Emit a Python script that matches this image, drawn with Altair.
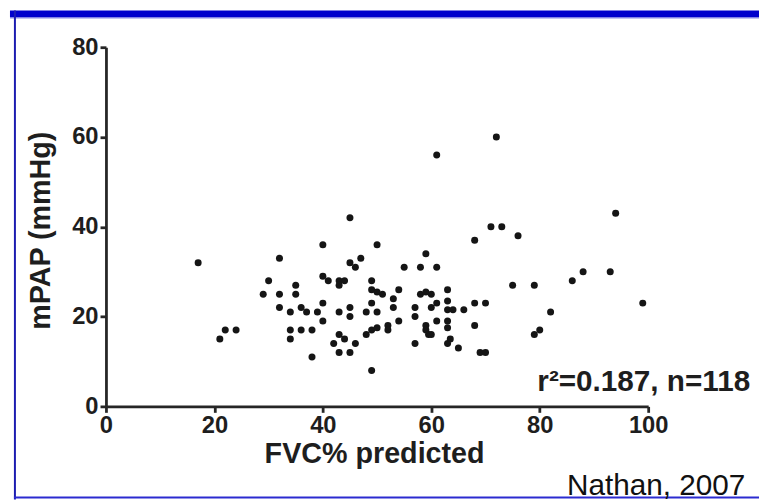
import altair as alt
import pandas as pd

# FVC% predicted (x) and mPAP in mmHg (y)
fvc = [17, 21, 22, 24, 29, 30, 32, 32, 32, 34, 34, 34, 35, 35, 36, 36, 37, 38, 38, 39,
       40, 40, 40, 40, 41, 42, 43, 43, 43, 43, 43, 44, 44, 45, 45, 45, 45, 45, 46, 46,
       47, 48, 48, 49, 49, 49, 49, 49, 50, 50, 50, 50, 51, 52, 52, 53, 53, 54, 54, 55,
       57, 57, 57, 58, 58, 59, 60, 59, 59, 59, 59.5, 60, 60, 61, 61, 61, 61, 63, 63, 63,
       63, 63, 63, 64, 63.5, 65, 66, 68, 68, 68, 69, 70, 70, 71, 72, 73, 75, 76, 79, 79,
       80, 82, 86, 88, 93, 94, 99]
mpap = [32, 15, 17, 17, 25, 28, 33, 25, 22, 21, 17, 15, 27, 25, 17, 22, 21, 17, 11, 21,
        36, 29, 23, 19, 28, 14, 28, 27, 21, 16, 12, 28, 15, 42, 32, 22, 20, 12, 31, 14,
        33, 21, 16, 28, 26, 23, 17, 8, 36, 25.5, 21, 17.5, 25, 18, 17, 24, 22, 26, 19, 31,
        22, 20, 14, 31, 25, 25.5, 25, 34, 18, 17, 16, 22, 16, 56, 31, 23, 19, 26, 23.5, 21.5,
        19, 17.5, 14, 21.5, 15, 13, 21.5, 37, 23, 18, 12, 23, 12, 40, 60, 40, 27, 38, 27, 16,
        17, 21, 28, 30, 30, 43, 23]

x_ticks = [0, 20, 40, 60, 80, 100]
y_ticks = [0, 20, 40, 60, 80]
x_title = "FVC% predicted"
y_title = "mPAP (mmHg)"
stat_text = "r\u00b2=0.187, n=118"
source_text = "Nathan, 2007"

df = pd.DataFrame({"fvc": fvc, "mpap": mpap})

W, H = 548, 363
FONT = "Liberation Sans"
INK = "#1e1e1e"

axis_common = dict(
    grid=False,
    domainColor="#262626", domainWidth=2.8,
    tickColor="#262626", tickWidth=2.8, tickSize=6,
    labelFont=FONT, labelFontWeight="bold", labelFontSize=24, labelColor=INK,
    labelFlush=False, labelOverlap=False,
    titleFont=FONT, titleFontWeight="bold", titleFontSize=29, titleColor=INK,
)

points = alt.Chart(df).mark_circle(size=50, color="#151515", opacity=1).encode(
    x=alt.X("fvc:Q",
            scale=alt.Scale(domain=[0, 100], nice=False),
            axis=alt.Axis(values=x_ticks, title=x_title, labelPadding=1,
                          titleX=271, titleY=57, titleBaseline="alphabetic",
                          titleAlign="center", **axis_common)),
    y=alt.Y("mpap:Q",
            scale=alt.Scale(domain=[0, 80], nice=False),
            axis=alt.Axis(values=y_ticks, title=y_title, labelPadding=2,
                          titleAngle=270, titleX=-57, titleY=185,
                          titleBaseline="alphabetic", titleAlign="center",
                          **axis_common)),
)

one = pd.DataFrame({"k": [0]})

stat = alt.Chart(one).mark_text(
    text=stat_text, font=FONT, fontWeight="bold", fontSize=30, color=INK,
    align="left", baseline="alphabetic",
).encode(x=alt.value(436), y=alt.value(347))

source = alt.Chart(one).mark_text(
    text=source_text, font=FONT, fontSize=30, color="#111111",
    align="left", baseline="alphabetic",
).encode(x=alt.value(466), y=alt.value(453))

top_bar = alt.Chart(one).mark_rect(color="#0000cc").encode(
    x=alt.value(-97), x2=alt.value(680), y=alt.value(-37), y2=alt.value(-30))
top_edge = alt.Chart(one).mark_rect(color="#8a8ae6").encode(
    x=alt.value(-97), x2=alt.value(680), y=alt.value(-30), y2=alt.value(-29))
left_line = alt.Chart(one).mark_rect(color="#1c1cb0").encode(
    x=alt.value(-93), x2=alt.value(-91), y=alt.value(-37), y2=alt.value(457))
bottom_line = alt.Chart(one).mark_rect(color="#2b2bd0").encode(
    x=alt.value(-93), x2=alt.value(680), y=alt.value(454), y2=alt.value(456))

chart = alt.layer(
    top_bar, top_edge, left_line, bottom_line, points, stat, source
).properties(
    width=W, height=H,
    padding={"left": 99, "top": 37, "right": 112, "bottom": 94},
    autosize=alt.AutoSizeParams(type="none"),
    background="white",
).configure_view(stroke=None)

chart.save("out.html", embed_options={"renderer": "svg", "actions": False})
